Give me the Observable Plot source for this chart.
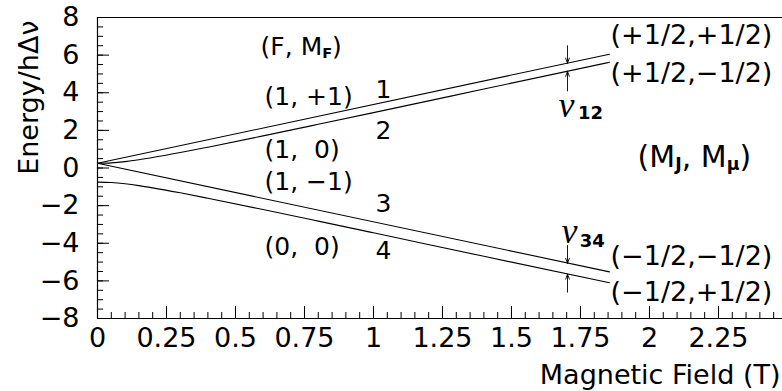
<!DOCTYPE html>
<html><head><meta charset="utf-8">
<script src="https://cdn.jsdelivr.net/npm/d3@7"></script>
<script src="https://cdn.jsdelivr.net/npm/@observablehq/plot@0.6"></script>
<style>
body{margin:0;background:#fff;}
svg text{white-space:pre;}
</style></head><body><div id="chart"></div>
<script>
// ---- data ----
const line1B = [0, 1.855];
const line1E = [0.25, 6.05];
const line2B = [0, 0.05, 0.1, 0.15, 0.2, 0.3, 0.4, 0.6, 0.8, 1.0, 1.4, 1.855];
const line2E = [0.25, 0.274, 0.341, 0.438, 0.555, 0.82, 1.107, 1.708, 2.323, 2.944, 4.195, 5.62];
const line3B = [0, 1.855];
const line3E = [0.25, -5.52];
const line4B = [0, 0.05, 0.1, 0.15, 0.2, 0.3, 0.4, 0.6, 0.8, 1.0, 1.4, 1.855];
const line4E = [-0.75, -0.774, -0.841, -0.938, -1.055, -1.32, -1.607, -2.208, -2.823, -3.444, -4.695, -6.10];

const arrowB = [1.703, 1.703, 1.703, 1.703];
const arrowFrom = [6.5, 4.1, -4.12, -6.6];
const arrowTo = [5.57, 5.14, -5.07, -5.64];

const stateLabels = ["(F, M_{F})", "(1, +1)", "(1,  0)", "(1, −1)", "(0,  0)"];
const stateB = [0.591, 0.605, 0.605, 0.605, 0.605];
const stateE = [6.41, 3.80, 0.98, -0.72, -4.18];
const levelLabels = ["1", "2", "3", "4"];
const levelB = [1.036, 1.036, 1.036, 1.036];
const levelE = [4.12, 1.99, -1.89, -4.39];
const highLabels = ["(+1/2,+1/2)", "(+1/2,−1/2)", "(−1/2,−1/2)", "(−1/2,+1/2)"];
const highB = [1.859, 1.859, 1.859, 1.859];
const highE = [7.05, 5.03, -4.71, -6.62];
const highTitle = ["(M_{J}, M_{μ})"];
const highTitleB = [1.957];
const highTitleE = [0.56];
const nuLabels = ["ν", "ν"];
const nuB = [1.699, 1.710];
const nuE = [3.32, -3.38];
const nuSubs = ["12", "34"];
const nuSubB = [1.786, 1.793];
const nuSubE = [2.93, -3.91];

const xMajor = [0, 0.25, 0.5, 0.75, 1, 1.25, 1.5, 1.75, 2, 2.25];
const yMajor = [-8, -6, -4, -2, 0, 2, 4, 6, 8];
const xMinor = d3.range(0, 2.48, 0.05);
const yMinor = d3.range(-8, 8.01, 0.5);
const xTitle = "Magnetic Field (T)";
const yTitle = "Energy/hΔν";

const pts = (B, E) => B.map((b, i) => ({B: b, E: E[i]}));
const lab = (T, B, E) => T.map((t, i) => ({t, B: B[i], E: E[i]}));

const FONT = "DejaVu Sans";
const fmtY = d => d < 0 ? "−" + (-d) : String(d);

const chart = Plot.plot({
  width: 782, height: 391,
  marginLeft: 97, marginRight: 0, marginTop: 17, marginBottom: 73,
  style: {fontFamily: FONT, background: "#fff", color: "#000"},
  x: {domain: [0, 2.482]},
  y: {domain: [-8, 8]},
  marks: [
    Plot.ruleX([0], {stroke: "#000", strokeWidth: 1.2}),
    Plot.ruleY([-8, 8], {stroke: "#000", strokeWidth: 1.2}),
    Plot.axisX(xMajor, {tickSize: 0, tickPadding: 9, fontSize: 27, tickFormat: d => String(d), label: null}),
    Plot.axisX(xMajor, {tickSize: -12, text: null, label: null}),
    Plot.axisX(xMinor, {tickSize: -6, text: null, label: null}),
    Plot.axisY(yMajor, {tickSize: 0, tickPadding: 18, fontSize: 27, tickFormat: fmtY, label: null}),
    Plot.axisY(yMajor, {tickSize: -12, text: null, label: null}),
    Plot.axisY(yMinor, {tickSize: -6, text: null, label: null}),
    Plot.line(pts(line1B, line1E), {x: "B", y: "E", stroke: "#000", strokeWidth: 1.1}),
    Plot.line(pts(line2B, line2E), {x: "B", y: "E", stroke: "#000", strokeWidth: 1.1, curve: "monotone-x"}),
    Plot.line(pts(line3B, line3E), {x: "B", y: "E", stroke: "#000", strokeWidth: 1.1}),
    Plot.line(pts(line4B, line4E), {x: "B", y: "E", stroke: "#000", strokeWidth: 1.1, curve: "monotone-x"}),
    Plot.arrow(arrowB.map((b, i) => ({b, f: arrowFrom[i], t: arrowTo[i]})),
      {x1: "b", y1: "f", x2: "b", y2: "t", headLength: 9, headAngle: 40, stroke: "#000", strokeWidth: 0.9}),
    Plot.text(lab(stateLabels, stateB, stateE), {x: "B", y: "E", text: "t", textAnchor: "start", lineAnchor: "middle", fontSize: 25, fill: "#000"}),
    Plot.text(lab(levelLabels, levelB, levelE), {x: "B", y: "E", text: "t", textAnchor: "middle", lineAnchor: "middle", fontSize: 25, fill: "#000"}),
    Plot.text(lab(highLabels, highB, highE), {x: "B", y: "E", text: "t", textAnchor: "start", lineAnchor: "middle", fontSize: 27, fill: "#000"}),
    Plot.text(lab(highTitle, highTitleB, highTitleE), {x: "B", y: "E", text: "t", textAnchor: "start", lineAnchor: "middle", fontSize: 30, fill: "#000"}),
    Plot.text(lab(nuLabels, nuB, nuE), {x: "B", y: "E", text: "t", textAnchor: "middle", lineAnchor: "middle", fontSize: 36, fontFamily: "Liberation Serif", fontStyle: "italic", fill: "#000"}),
    Plot.text(lab(nuSubs, nuSubB, nuSubE), {x: "B", y: "E", text: "t", textAnchor: "middle", lineAnchor: "middle", fontSize: 18, fontWeight: "bold", fill: "#000"}),
    Plot.text([yTitle], {frameAnchor: "top-left", rotate: -90, textAnchor: "end", lineAnchor: "middle", dx: -68, dy: 3, fontSize: 27, fill: "#000"}),
    Plot.text([xTitle], {frameAnchor: "bottom-right", textAnchor: "end", lineAnchor: "middle", dx: -2, dy: 57, fontSize: 27, fill: "#000"})
  ]
});

// subscripts: rebuild "_{...}" into tspans
d3.select(chart).selectAll("text").each(function() {
  const s = this.textContent;
  if (!s.includes("_{")) return;
  const fs = parseFloat(this.getAttribute("font-size")) || parseFloat(this.parentNode.getAttribute("font-size")) || 25;
  const parts = s.split(/(_\{[^}]*\})/).filter(p => p.length);
  this.textContent = "";
  const sel = d3.select(this);
  let shifted = false;
  for (const p of parts) {
    if (p.startsWith("_{")) {
      sel.append("tspan").attr("font-size", fs * 0.58).attr("font-weight", "bold").attr("dy", fs * 0.1).text(p.slice(2, -1));
      shifted = true;
    } else {
      const t = sel.append("tspan").text(p);
      if (shifted) { t.attr("dy", -fs * 0.1); shifted = false; }
    }
  }
});

document.getElementById("chart").append(chart);
</script>
</body></html>
